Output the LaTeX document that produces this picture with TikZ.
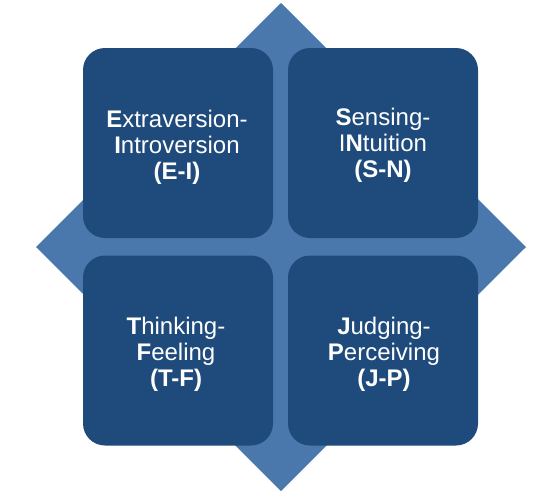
\documentclass[tikz,border=0pt]{standalone}
\usepackage{fontspec}
\setmainfont{Liberation Sans}
\definecolor{boxblue}{HTML}{1F4B7C}
\definecolor{diamondblue}{HTML}{4A78AC}
\tikzset{
  quad/.style={fill=boxblue, draw=none, rounded corners=22pt, minimum width=190pt, minimum height=190pt, inner sep=0pt},
  quadtext/.style={text=white, align=center, font=\fontsize{24}{26}\selectfont, inner sep=0pt}
}
\begin{document}
\begin{tikzpicture}[x=1pt,y=-1pt]
\useasboundingbox (0,0) rectangle (560,498);
\fill[white] (0,0) rectangle (560,498);
\coordinate (dt) at (281,3);
\coordinate (dr) at (526,247);
\coordinate (db) at (281,491);
\coordinate (dl) at (36,247);
\fill[diamondblue] (dt) -- (dr) -- (db) -- (dl) -- cycle;
\node[quad] (tl) at (178,143) {};
\node[quad] (tr) at (383,143) {};
\node[quad] (bl) at (178,350.5) {};
\node[quad] (br) at (383,350.5) {};
\node[quadtext] (tlt) at (177,147) {\textbf{E}xtraversion-\\\textbf{I}ntroversion\\\textbf{(E-I)}};
\node[quadtext] (trt) at (383,145) {\textbf{S}ensing-\\I\textbf{N}tuition\\\textbf{(S-N)}};
\node[quadtext] (blt) at (176,354) {\textbf{T}hinking-\\\textbf{F}eeling\\\textbf{(T-F)}};
\node[quadtext] (brt) at (384,354) {\textbf{J}udging-\\\textbf{P}erceiving\\\textbf{(J-P)}};
\end{tikzpicture}
\end{document}
